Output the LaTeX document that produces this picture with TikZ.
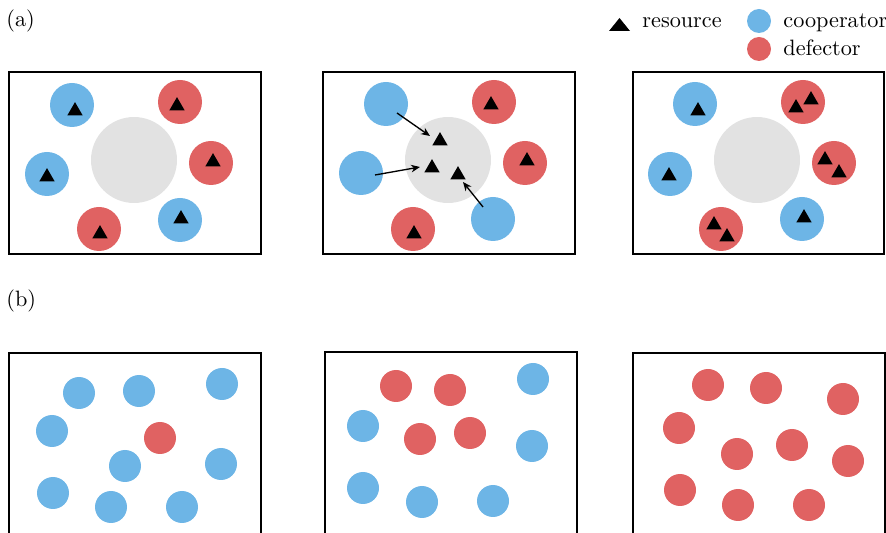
\documentclass[tikz,border=0pt]{standalone}
\usetikzlibrary{shapes.geometric,arrows.meta}
\definecolor{coop}{HTML}{6DB5E6}
\definecolor{defe}{HTML}{E06262}
\definecolor{poolc}{HTML}{E2E2E2}
\begin{document}
\begin{tikzpicture}[x=0.45pt,y=-0.45pt,
  agentA/.style={circle,inner sep=0pt,minimum size=19.8pt,draw=none},
  coopA/.style={agentA,fill=coop},
  defA/.style={agentA,fill=defe},
  agentB/.style={circle,inner sep=0pt,minimum size=14.4pt,draw=none},
  coopB/.style={agentB,fill=coop},
  defB/.style={agentB,fill=defe},
  legdot/.style={circle,inner sep=0pt,minimum size=10.8pt,draw=none},
  poolnode/.style={circle,inner sep=0pt,minimum size=38.7pt,fill=poolc},
  res/.style={regular polygon,regular polygon sides=3,fill=black,inner sep=0pt,minimum size=8pt},
  frame/.style={line width=0.9pt},
  flow/.style={-{Stealth[length=4pt,width=3.4pt]},line width=0.6pt},
  lbl/.style={anchor=base west,inner sep=0pt,font=\fontsize{10}{12}\selectfont}]
\useasboundingbox (0,0) rectangle (886,533);
\clip (0,0) rectangle (886,533);

% labels
\node[lbl] (la) at (6,27) {(a)};
\node[lbl] (lb) at (6,307) {(b)};

% legend
\fill (609,31) -- (630,31) -- (619.5,18) -- cycle;
\coordinate (legtri) at (619.5,25);
\node[lbl] (legres) at (642,27.5) {resource};
\node[legdot,fill=coop] (legc) at (759,21) {};
\node[lbl] (legct) at (783,27.5) {cooperator};
\node[legdot,fill=defe] (legd) at (759,49) {};
\node[lbl] (legdt) at (783,56) {defector};

% ---------- panel (a), box 1 ----------
\draw[frame] (9,72) rectangle (261,254);
\node[poolnode] (p1) at (134,160) {};
\node[coopA] (a11) at (72,105) {};
\node[defA]  (a12) at (180,102) {};
\node[defA]  (a13) at (211,163) {};
\node[coopA] (a14) at (47,174) {};
\node[defA]  (a15) at (99,229) {};
\node[coopA] (a16) at (180,220) {};
\node[res] (r11) at (75,111) {};
\node[res] (r12) at (177,106) {};
\node[res] (r13) at (213,162) {};
\node[res] (r14) at (47,177) {};
\node[res] (r15) at (100,234) {};
\node[res] (r16) at (181,219) {};

% ---------- panel (a), box 2 ----------
\draw[frame] (323,72) rectangle (575,254);
\node[poolnode] (p2) at (448,160) {};
\node[coopA] (a21) at (386,104) {};
\node[defA]  (a22) at (494,102) {};
\node[defA]  (a23) at (525,163) {};
\node[coopA] (a24) at (361,173) {};
\node[defA]  (a25) at (413,229) {};
\node[coopA] (a26) at (493,219) {};
\node[res] (r22) at (491,105) {};
\node[res] (r23) at (527,161) {};
\node[res] (r25) at (414,234) {};
\node[res] (q1) at (440,141) {};
\node[res] (q2) at (432,168) {};
\node[res] (q3) at (458,175) {};
\coordinate (s1) at (397,113);
\coordinate (e1) at (430,136);
\coordinate (s2) at (375,175);
\coordinate (e2) at (420,167);
\coordinate (s3) at (483,207);
\coordinate (e3) at (463,182);
\draw[flow] (s1) -- (e1);
\draw[flow] (s2) -- (e2);
\draw[flow] (s3) -- (e3);

% ---------- panel (a), box 3 ----------
\draw[frame] (633,72) rectangle (884,254);
\node[poolnode] (p3) at (757,160) {};
\node[coopA] (a31) at (695,104) {};
\node[defA]  (a32) at (803,102) {};
\node[defA]  (a33) at (834,163) {};
\node[coopA] (a34) at (670,174) {};
\node[defA]  (a35) at (721,229) {};
\node[coopA] (a36) at (802,219) {};
\node[res] (r31) at (698,111) {};
\node[res] (r32a) at (796,108) {};
\node[res] (r32b) at (811,100) {};
\node[res] (r33a) at (825,160) {};
\node[res] (r33b) at (839,173) {};
\node[res] (r34) at (669,176) {};
\node[res] (r35a) at (714,225) {};
\node[res] (r35b) at (727,237) {};
\node[res] (r36) at (804,218) {};

% ---------- panel (b), box 1 ----------
\draw[frame] (9,560) -- (9,353) -- (261,353) -- (261,560);
\node[coopB] (b11) at (79,393) {};
\node[coopB] (b12) at (139,391) {};
\node[coopB] (b13) at (222,384) {};
\node[coopB] (b14) at (52,431) {};
\node[defB]  (b15) at (160,438) {};
\node[coopB] (b16) at (125,466) {};
\node[coopB] (b17) at (221,464) {};
\node[coopB] (b18) at (53,493) {};
\node[coopB] (b19) at (111,507) {};
\node[coopB] (b110) at (182,507) {};

% ---------- panel (b), box 2 ----------
\draw[frame] (325,560) -- (325,352) -- (577,352) -- (577,560);
\node[defB]  (b21) at (396,386) {};
\node[defB]  (b22) at (450,390) {};
\node[coopB] (b23) at (533,379) {};
\node[coopB] (b24) at (363,426) {};
\node[defB]  (b25) at (420,439) {};
\node[defB]  (b26) at (470,433) {};
\node[coopB] (b27) at (532,446) {};
\node[coopB] (b28) at (363,488) {};
\node[coopB] (b29) at (422,502) {};
\node[coopB] (b210) at (493,501) {};

% ---------- panel (b), box 3 ----------
\draw[frame] (633,560) -- (633,353) -- (885,353) -- (885,560);
\node[defB] (b31) at (708,385) {};
\node[defB] (b32) at (766,388) {};
\node[defB] (b33) at (843,399) {};
\node[defB] (b34) at (679,428) {};
\node[defB] (b35) at (737,454) {};
\node[defB] (b36) at (792,445) {};
\node[defB] (b37) at (848,461) {};
\node[defB] (b38) at (680,490) {};
\node[defB] (b39) at (738,505) {};
\node[defB] (b310) at (809,505) {};
\end{tikzpicture}
\end{document}
